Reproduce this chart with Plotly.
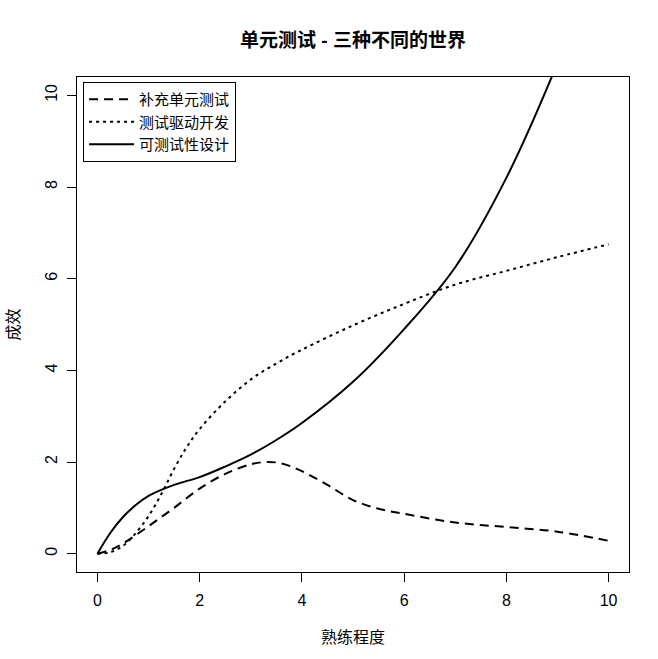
import plotly.graph_objects as go

# Series: 补充单元测试 (dashed)
x_patch = [0, 0.25, 0.5, 1, 1.5, 2, 2.5, 3, 3.3, 3.6, 4, 4.5, 5, 5.5, 6, 7, 8, 9, 10]
y_patch = [0, 0.08, 0.22, 0.6, 1.0, 1.42, 1.74, 1.95, 2.0, 1.97, 1.8, 1.5, 1.17, 0.98, 0.87, 0.68, 0.58, 0.48, 0.28]

# Series: 测试驱动开发 (dotted)
x_tdd = [0, 0.25, 0.5, 0.75, 1, 1.25, 1.5, 1.75, 2, 2.5, 3, 3.5, 4, 5, 6, 7, 8, 9, 10]
y_tdd = [0, 0.03, 0.17, 0.45, 0.82, 1.3, 1.85, 2.33, 2.72, 3.32, 3.8, 4.15, 4.45, 4.98, 5.45, 5.87, 6.17, 6.47, 6.75]

# Series: 可测试性设计 (solid)
x_dft = [0, 0.25, 0.5, 0.75, 1, 1.5, 2, 2.5, 3, 3.5, 4, 5, 6, 7, 8, 9, 10]
y_dft = [0, 0.45, 0.8, 1.06, 1.26, 1.5, 1.67, 1.9, 2.16, 2.48, 2.85, 3.75, 4.9, 6.25, 8.2, 10.7, 13.6]

names = ["补充单元测试", "测试驱动开发", "可测试性设计"]
x_ticks = [0, 2, 4, 6, 8, 10]
y_ticks = [0, 2, 4, 6, 8, 10]

FONT = "Liberation Sans, Arial, Noto Sans CJK SC, sans-serif"

fig = go.Figure()
fig.add_trace(go.Scatter(x=x_patch, y=y_patch, mode="lines", name=names[0],
                         line=dict(color="black", width=2, dash="9px,6px", shape="spline", smoothing=1)))
fig.add_trace(go.Scatter(x=x_tdd, y=y_tdd, mode="lines", name=names[1],
                         line=dict(color="black", width=2, dash="3px,4px", shape="spline", smoothing=1)))
fig.add_trace(go.Scatter(x=x_dft, y=y_dft, mode="lines", name=names[2],
                         line=dict(color="black", width=2, shape="spline", smoothing=1)))

fig.update_layout(
    width=658, height=659,
    margin=dict(l=77, r=29, t=77, b=87),
    paper_bgcolor="white", plot_bgcolor="white",
    font=dict(family=FONT, size=16, color="black"),
    title=dict(text="<b>单元测试 - 三种不同的世界</b>", x=0.5, xref="paper", xanchor="center",
               y=1 - 40/659, yanchor="middle", font=dict(size=19, family=FONT)),
    showlegend=True,
    legend=dict(x=0.011, y=0.99, xanchor="left", yanchor="top",
                bordercolor="black", borderwidth=1, bgcolor="white",
                font=dict(size=15, family=FONT), tracegroupgap=0, itemwidth=45),
)
fig.update_xaxes(range=[-0.4, 10.4], tickvals=x_ticks, ticktext=[str(v) for v in x_ticks],
                 showgrid=False, zeroline=False, showline=True, mirror=True, linecolor="black", linewidth=1,
                 ticks="outside", ticklen=9, tickcolor="black", tickfont=dict(size=16),
                 ticklabelstandoff=5,
                 title=dict(text="熟练程度", font=dict(size=16), standoff=23))
fig.update_yaxes(range=[-0.4, 10.4], tickvals=y_ticks, ticktext=[str(v) for v in y_ticks],
                 showgrid=False, zeroline=False, showline=True, mirror=True, linecolor="black", linewidth=1,
                 ticks="outside", ticklen=9, tickcolor="black", tickfont=dict(size=16), tickangle=-90,
                 ticklabelstandoff=4,
                 title=dict(text="成效", font=dict(size=16), standoff=18))

fig.write_html("out.html")
